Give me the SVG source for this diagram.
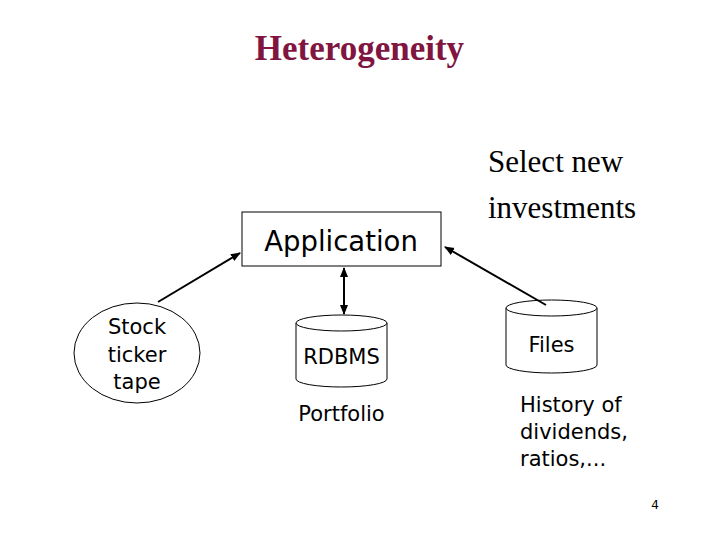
<svg xmlns="http://www.w3.org/2000/svg" width="720" height="540" viewBox="0 0 720 540">
<style>
.t{font-family:"DejaVu Sans",Verdana,sans-serif;font-size:21px;fill:#000}
.s{fill:#fff;stroke:#000;stroke-width:1}
.c{stroke:#000;stroke-width:2;fill:none}
.serif{font-family:"Liberation Serif","Times New Roman",serif;font-size:31px;fill:#000}
</style>
<defs>
<marker id="ah" viewBox="0 0 10 10" refX="9" refY="5" markerWidth="10" markerHeight="10" markerUnits="userSpaceOnUse" orient="auto-start-reverse">
<path d="M0,1 L10,5 L0,9 z" fill="#000"/>
</marker>
</defs>
<rect width="720" height="540" fill="#fff"/>
<text x="359.5" y="60" text-anchor="middle" style="font-family:'Liberation Serif','Times New Roman',serif;font-size:35px;font-weight:bold;fill:#7f1540">Heterogeneity</text>
<g id="app">
<rect class="s" x="242" y="212" width="199" height="54"/>
<text x="341" y="251" text-anchor="middle" class="t" style="font-size:27.5px">Application</text>
</g>
<g id="ticker">
<ellipse class="s" cx="137" cy="353" rx="63" ry="50"/>
<text x="137" y="334" text-anchor="middle" class="t">Stock</text>
<text x="137" y="362" text-anchor="middle" class="t">ticker</text>
<text x="137" y="389" text-anchor="middle" class="t">tape</text>
</g>
<g id="rdbms">
<path class="s" d="M296,323 L296,379 A45.5,8 0 0 0 387,379 L387,323"/>
<ellipse class="s" cx="341.5" cy="323" rx="45.5" ry="8"/>
<text x="341.5" y="364" text-anchor="middle" class="t">RDBMS</text>
<text x="341.5" y="421" text-anchor="middle" class="t">Portfolio</text>
</g>
<g id="files">
<path class="s" d="M506,308 L506,365 A45.5,8 0 0 0 597,365 L597,308"/>
<ellipse class="s" cx="551.5" cy="308" rx="45.5" ry="8"/>
<text x="551.5" y="352" text-anchor="middle" class="t">Files</text>
<text x="520" y="412" class="t">History of</text>
<text x="520" y="439" class="t">dividends,</text>
<text x="520" y="466" class="t">ratios,...</text>
</g>
<g id="select">
<text x="488" y="172" class="serif">Select new</text>
<text x="488" y="218" class="serif">investments</text>
</g>
<g id="connectors">
<line class="c" x1="158" y1="302" x2="240" y2="253" marker-end="url(#ah)"/>
<line class="c" x1="344" y1="268" x2="344" y2="314" marker-start="url(#ah)" marker-end="url(#ah)"/>
<line class="c" x1="546" y1="305" x2="445" y2="247" marker-end="url(#ah)"/>
</g>
<text x="655" y="509" text-anchor="middle" style="font-family:'DejaVu Sans',Verdana,sans-serif;font-size:12px">4</text>
</svg>
